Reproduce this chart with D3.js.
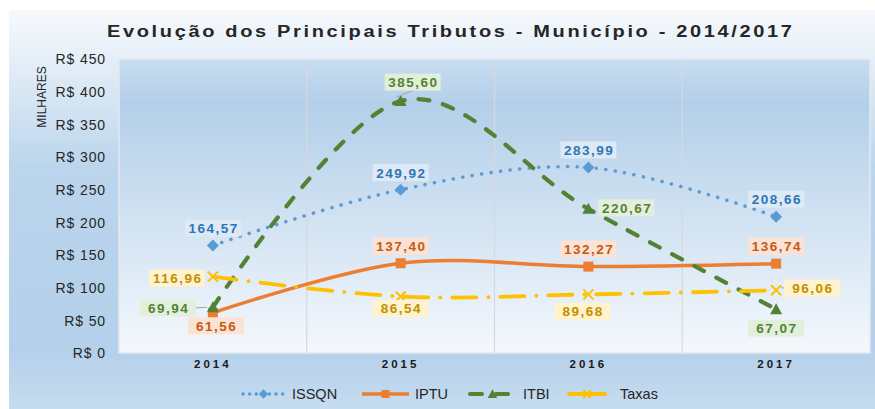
<!DOCTYPE html>
<html>
<head>
<meta charset="utf-8">
<script src="https://cdn.jsdelivr.net/npm/d3@7"></script>
<style>
  body { margin: 0; background: #fff; }
  text { font-family: Arial, "Liberation Sans", sans-serif; }
</style>
</head>
<body>
<script>
var years = ['2014', '2015', '2016', '2017']
var issqn = [164.57, 249.92, 283.99, 208.66]
var iptu = [61.56, 137.40, 132.27, 136.74]
var itbi = [69.94, 385.60, 220.67, 67.07]
var taxas = [116.96, 86.54, 89.68, 96.06]
var yTicks = [0, 50, 100, 150, 200, 250, 300, 350, 400, 450]

// label offsets from the marker (dx, dy), and optional leader line
var issqnLbl = [[0, -17.5], [0, -17], [0, -17.5], [0, -17.5]]
var iptuLbl = [[3, 13], [0, -17], [0, -17.5], [0, -17.5]]
var itbiLbl = [[-45, 0.5, 1], [12, -19, 1], [38, -1], [0, 19]]
var taxasLbl = [[-36, 1.5], [0, 12], [-6, 17], [36, -2, 1]]

var W = 875, H = 409
var margin = {left: 119, right: 5, top: 59, bottom: 56}

var svg = d3.select('body').append('svg')
  .attr('width', W)
  .attr('height', H)

var defs = svg.append('defs')
var g1 = defs.append('linearGradient').attr('id', 'outerBg')
  .attr('x1', 0).attr('y1', 0).attr('x2', 0).attr('y2', 1)
g1.append('stop').attr('offset', '0%').attr('stop-color', '#f6f9fc')
g1.append('stop').attr('offset', '12%').attr('stop-color', '#e6eff8')
g1.append('stop').attr('offset', '40%').attr('stop-color', '#bad5ec')
g1.append('stop').attr('offset', '85%').attr('stop-color', '#b4d0ea')
g1.append('stop').attr('offset', '100%').attr('stop-color', '#c6dcf0')

var g2 = defs.append('linearGradient').attr('id', 'plotBg')
  .attr('x1', 0).attr('y1', 0).attr('x2', 0).attr('y2', 1)
g2.append('stop').attr('offset', '0%').attr('stop-color', '#c8ddf0')
g2.append('stop').attr('offset', '15%').attr('stop-color', '#b3cfe9')
g2.append('stop').attr('offset', '100%').attr('stop-color', '#f4f8fc')

svg.append('rect')
  .attr('x', 9).attr('y', 10)
  .attr('width', W - 9).attr('height', H - 10)
  .attr('fill', 'url(#outerBg)')

var x = d3.scaleBand()
  .domain(years)
  .range([margin.left, W - margin.right])

var y = d3.scaleLinear()
  .domain([0, 450])
  .range([H - margin.bottom, margin.top])

var px = function(i) { return x(years[i]) + x.bandwidth() / 2 }

svg.append('rect')
  .attr('x', margin.left).attr('y', margin.top)
  .attr('width', x.range()[1] - margin.left)
  .attr('height', y(0) - margin.top)
  .attr('fill', 'url(#plotBg)')
  .attr('stroke', '#e4e9ef')
  .attr('stroke-width', 1.5)

// vertical gridlines between categories
svg.append('g')
  .selectAll('line')
  .data(years.slice(1))
  .enter().append('line')
  .attr('x1', function(d) { return x(d) })
  .attr('x2', function(d) { return x(d) })
  .attr('y1', margin.top)
  .attr('y2', y(0))
  .attr('stroke', '#d6d9dd')
  .attr('stroke-width', 1.2)

// y axis
var yAxis = svg.append('g')
  .attr('transform', 'translate(' + (margin.left - 13) + ',0)')
  .call(d3.axisLeft(y).tickValues(yTicks).tickSize(0).tickPadding(0)
    .tickFormat(function(d) { return 'R$ ' + d }))
yAxis.select('.domain').remove()
yAxis.selectAll('text')
  .attr('font-size', 14)
  .attr('letter-spacing', 0.9)
  .attr('fill', '#262626')
  .attr('dy', '0.35em')

svg.append('text')
  .attr('transform', 'translate(46,97) rotate(-90)')
  .attr('text-anchor', 'middle')
  .attr('font-size', 12)
  .attr('fill', '#262626')
  .text('MILHARES')

// x axis
var xAxis = svg.append('g')
  .attr('transform', 'translate(0,' + (y(0) + 7) + ')')
  .call(d3.axisBottom(x).tickSize(0).tickPadding(0))
xAxis.select('.domain').remove()
xAxis.selectAll('text')
  .attr('font-size', 11.5)
  .attr('font-weight', 'bold')
  .attr('letter-spacing', 3)
  .attr('fill', '#1a1a1a')

// title (the original is stretched sideways)
var sx = 1.25
svg.append('g')
  .attr('transform', 'translate(107,37) scale(' + sx + ',1)')
  .append('text')
  .attr('font-size', 16)
  .attr('font-weight', 'bold')
  .attr('textLength', 685 / sx)
  .attr('lengthAdjust', 'spacing')
  .attr('fill', '#262626')
  .text('Evolução dos Principais Tributos - Município - 2014/2017')

var line = d3.line()
  .x(function(d, i) { return px(i) })
  .y(function(d) { return y(d) })
  .curve(d3.curveCardinal.tension(0))

var series = [
  {name: 'ISSQN', values: issqn, lbl: issqnLbl, color: '#5b9bd5', text: '#2e75b6', box: '#dde9f5',
    width: 3.5, dash: '0.1 9.5', marker: 'diamond'},
  {name: 'IPTU', values: iptu, lbl: iptuLbl, color: '#ed7d31', text: '#c55a11', box: '#fbe2d5',
    width: 3.5, dash: null, marker: 'square'},
  {name: 'ITBI', values: itbi, lbl: itbiLbl, color: '#548235', text: '#548235', box: '#e2efda',
    width: 4.2, dash: '11 14', marker: 'triangle'},
  {name: 'Taxas', values: taxas, lbl: taxasLbl, color: '#ffc000', text: '#bf9000', box: '#fff2cc',
    width: 3.8, dash: '24 12 0.1 12', marker: 'cross'}
]

function drawMarker(sel, type, color, k) {
  k = k || 1
  if (type === 'diamond') {
    sel.append('path').attr('d', 'M0,-6L6,0L0,6L-6,0Z').attr('fill', color)
  } else if (type === 'square') {
    sel.append('rect').attr('x', -5).attr('y', -5).attr('width', 10).attr('height', 10).attr('fill', color)
  } else if (type === 'triangle') {
    sel.append('path').attr('d', 'M0,-6L6,5L-6,5Z').attr('fill', color)
  } else {
    sel.append('path').attr('d', 'M-5,-5L5,5M5,-5L-5,5')
      .attr('stroke', color).attr('stroke-width', 2 / k).attr('fill', 'none')
  }
  sel.selectAll('*').attr('transform', 'scale(' + k + ')')
}

var plot = svg.append('g')

series.forEach(function(s) {
  plot.append('path')
    .datum(s.values)
    .attr('d', line)
    .attr('fill', 'none')
    .attr('stroke', s.color)
    .attr('stroke-width', s.width)
    .attr('stroke-linecap', s.dash ? 'round' : 'butt')
    .attr('stroke-dasharray', s.dash)
})

series.forEach(function(s) {
  s.values.forEach(function(v, i) {
    var m = plot.append('g').attr('transform', 'translate(' + px(i) + ',' + y(v) + ')')
    drawMarker(m, s.marker, s.color)
  })
})

// data labels
series.forEach(function(s) {
  s.values.forEach(function(v, i) {
    var mx = px(i), my = y(v)
    var o = s.lbl[i]
    var cx = mx + o[0], cy = my + o[1]
    var txt = d3.format('.2f')(v).replace('.', ',')
    var bw = 56, bh = 17
    if (o[2]) {
      var lx = cx, ly = cy
      if (o[0] < -20) { lx = cx + bw / 2 }
      else if (o[0] > 20) { lx = cx - bw / 2 }
      else { ly = cy + bh / 2 }
      plot.append('line')
        .attr('x1', lx).attr('y1', ly)
        .attr('x2', mx + (o[0] < -20 ? -6 : o[0] > 20 ? 5 : -4))
        .attr('y2', my + (o[0] > 20 ? -3 : o[0] < -20 ? 0 : -4))
        .attr('stroke', '#a6a6a6').attr('stroke-width', 1)
    }
    plot.append('rect')
      .attr('x', cx - bw / 2).attr('y', cy - bh / 2)
      .attr('width', bw).attr('height', bh)
      .attr('fill', s.box)
    plot.append('text')
      .attr('x', cx + 0.8).attr('y', cy)
      .attr('dy', '0.36em')
      .attr('text-anchor', 'middle')
      .attr('font-size', 13.5)
      .attr('font-weight', 'bold')
      .attr('letter-spacing', 1.5)
      .attr('fill', s.text)
      .text(txt)
  })
})

// legend
var legX = [241, 362, 468, 567]
var legW = [45, 47, 49, 40]
var legY = 394
var leg = svg.append('g')
series.forEach(function(s, i) {
  var x0 = legX[i], x1 = legX[i] + legW[i]
  leg.append('line')
    .attr('x1', x0 + (s.dash ? 2 : 0)).attr('x2', x1 - (s.dash ? 2 : 0))
    .attr('y1', legY).attr('y2', legY)
    .attr('stroke', s.color)
    .attr('stroke-width', s.width)
    .attr('stroke-linecap', s.dash ? 'round' : 'butt')
    .attr('stroke-dasharray', s.name === 'ISSQN' ? '0.1 6.5' : s.name === 'ITBI' ? '12 14' : s.name === 'Taxas' ? null : s.dash)
  var m = leg.append('g').attr('transform', 'translate(' + (x0 + x1) / 2 + ',' + legY + ')')
  drawMarker(m, s.marker, s.color, 0.8)
  leg.append('text')
    .attr('x', x1 + (s.name === 'Taxas' ? 13 : 6)).attr('y', legY)
    .attr('dy', '0.36em')
    .attr('font-size', 14.5)
    .attr('fill', '#262626')
    .text(s.name)
})
</script>
</body>
</html>
